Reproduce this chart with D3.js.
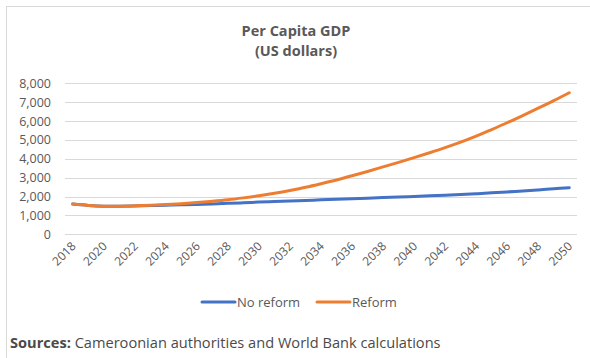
<!DOCTYPE html>
<html>
<head>
<meta charset="utf-8">
<script src="https://cdn.jsdelivr.net/npm/d3@7"></script>
<style>
  html, body { margin: 0; padding: 0; background: #fff; }
  svg { display: block; }
  text { font-family: "Open Sans", "Noto Sans", sans-serif; }
</style>
</head>
<body>
<svg id="chart" width="590" height="358"></svg>
<script>
const years = d3.range(2018, 2051).map(String);
const noReform = [1600, 1530, 1490, 1490, 1505, 1520, 1540, 1560, 1585, 1610, 1640,
  1670, 1705, 1735, 1765, 1795, 1825, 1855, 1885, 1915, 1945, 1975, 2005, 2040,
  2075, 2110, 2150, 2195, 2245, 2295, 2350, 2410, 2470];
const reform = [1600, 1530, 1490, 1490, 1510, 1540, 1580, 1625, 1680, 1750, 1830,
  1930, 2040, 2170, 2320, 2490, 2680, 2880, 3100, 3330, 3570, 3810, 4060, 4320,
  4590, 4880, 5200, 5550, 5910, 6290, 6680, 7080, 7500];
const yTicks = [0, 1000, 2000, 3000, 4000, 5000, 6000, 7000, 8000];
const xTickLabels = years.filter((d, i) => i % 2 === 0);
const seriesNames = ["No reform", "Reform"];
const seriesColors = ["#4472C4", "#ED7D31"];
const title = ["Per Capita GDP", "(US dollars)"];

const svg = d3.select("#chart");

// outer border
svg.append("rect").attr("x", 6.5).attr("y", 6.5).attr("width", 700).attr("height", 500)
  .attr("fill", "none").attr("stroke", "#d9d9d9").attr("stroke-width", 1);

const x = d3.scaleBand().domain(years).range([65, 577]);
const y = d3.scaleLinear().domain([0, 8000]).range([234.3, 83.3]);

// title
svg.append("g").selectAll("text").data(title).join("text")
  .attr("x", 296).attr("y", (d, i) => 36 + i * 20)
  .attr("text-anchor", "middle").attr("font-size", 14.5).attr("font-weight", "bold")
  .attr("fill", "#595959").text(d => d);

// gridlines
svg.append("g").selectAll("line").data(yTicks).join("line")
  .attr("x1", 65).attr("x2", 577)
  .attr("y1", d => Math.round(y(d)) + 0.5).attr("y2", d => Math.round(y(d)) + 0.5)
  .attr("stroke", "#d9d9d9").attr("stroke-width", 1);

// y axis labels
const yAxis = d3.axisLeft(y).tickValues(yTicks).tickSize(0).tickPadding(0)
  .tickFormat(d3.format(","));
const gy = svg.append("g").attr("transform", "translate(51,0)").call(yAxis);
gy.select(".domain").remove();
gy.selectAll("text").attr("font-family", "Open Sans").attr("font-size", 12.5)
  .attr("fill", "#595959");

// x axis labels
const xAxis = d3.axisBottom(x).tickValues(xTickLabels).tickSize(0).tickPadding(0);
const gx = svg.append("g").attr("transform", "translate(0,244)").call(xAxis);
gx.select(".domain").remove();
gx.selectAll("text").attr("font-family", "Open Sans").attr("font-size", 12)
  .attr("fill", "#595959")
  .attr("text-anchor", "end").attr("dy", "0.35em")
  .attr("transform", "translate(1,0) rotate(-45)");

// lines
const series = [noReform, reform];
const line = d3.line()
  .x((d, i) => x(years[i]) + x.bandwidth() / 2)
  .y(d => y(d))
  .curve(d3.curveCatmullRom.alpha(0.5));
svg.append("g").selectAll("path").data(series).join("path")
  .attr("d", d => line(d))
  .attr("fill", "none")
  .attr("stroke", (d, i) => seriesColors[i])
  .attr("stroke-width", 3)
  .attr("stroke-linecap", "round");

// legend
const legendX = [202, 317];
const lg = svg.append("g").selectAll("g").data(seriesNames).join("g")
  .attr("transform", (d, i) => `translate(${legendX[i]},302)`);
lg.append("line").attr("x1", 0).attr("x2", 33).attr("y1", 0).attr("y2", 0)
  .attr("stroke", (d, i) => seriesColors[i]).attr("stroke-width", 3)
  .attr("stroke-linecap", "round");
lg.append("text").attr("x", 35).attr("y", 0).attr("dy", "0.35em")
  .attr("font-size", 13).attr("fill", "#595959").text(d => d);

// source
const src = svg.append("text").attr("x", 10).attr("y", 348)
  .attr("font-size", 14.6).attr("fill", "#4a4a4a");
src.append("tspan").attr("font-weight", "bold").text("Sources:");
src.append("tspan").text(" Cameroonian authorities and World Bank calculations");
</script>
</body>
</html>
